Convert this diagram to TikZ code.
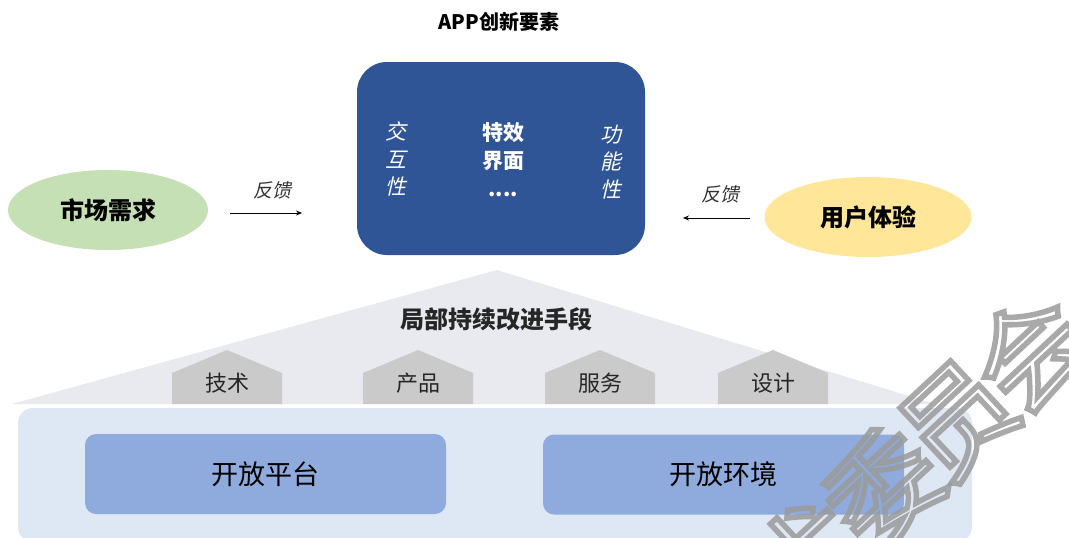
\documentclass[tikz,border=0pt]{standalone}
\usepackage{fontspec}
\setmainfont{Noto Sans CJK SC}
\newfontfamily\cjkit[FakeSlant=0.22]{Noto Sans CJK SC}
\usetikzlibrary{arrows.meta,shapes.geometric}
\definecolor{appblue}{HTML}{2F5597}
\definecolor{mgreen}{HTML}{C5E0B4}
\definecolor{uyellow}{HTML}{FFE699}
\definecolor{trigray}{HTML}{E8EAEF}
\definecolor{housegray}{HTML}{CACACA}
\definecolor{baseblue}{HTML}{DEE8F4}
\definecolor{innerblue}{HTML}{8FAADC}
\definecolor{wmgray}{HTML}{9A9A9A}
\tikzset{
  ell/.style={ellipse, minimum width=200pt, minimum height=80pt, inner sep=0pt,
    font=\fontsize{24}{24}\selectfont\bfseries, text=black},
  fb/.style={font=\cjkit\fontsize{19}{19}\selectfont, text=black!80},
  fbarrow/.style={-{Stealth[length=6pt,width=5pt]}, line width=0.8pt, black},
  housebox/.style={fill=housegray},
  houselabel/.style={font=\fontsize{22}{22}\selectfont, text=black!85},
  innerbox/.style={fill=innerblue, rounded corners=11pt, minimum width=361pt,
    minimum height=80pt, inner sep=0pt, font=\fontsize{27}{27}\selectfont, text=black},
  vtext/.style={align=center, font=\cjkit\fontsize{21}{27.5}\selectfont, text=white},
  wm/.style={rotate=43, font=\fontsize{110}{110}\selectfont, text=wmgray, text opacity=0.85, inner sep=0pt}
}
\newcommand{\wmchar}[1]{\special{pdf:literal direct 1 Tr 5.5 w}#1\special{pdf:literal direct 0 Tr 1 w}}
\begin{document}
\begin{tikzpicture}[x=1pt,y=-1pt]
\useasboundingbox[fill=white] (0,0) rectangle (1069,538);
% title
\node[font=\fontsize{20}{20}\selectfont\bfseries] (title) at (499,22) {APP创新要素};
% main blue box
\node[fill=appblue, rounded corners=30pt, minimum width=288pt, minimum height=193pt, inner sep=0pt] (app) at (501,158.5) {};
\node[vtext] (jiaohu) at (396,159) {交\\互\\性};
\node[align=center, font=\fontsize{21}{28}\selectfont\bfseries, text=white] (texiao) at (503,160) {特效\\界面\\....};
\node[vtext] (gongneng) at (611,162) {功\\能\\性};
% ellipses
\node[ell, fill=mgreen] (market) at (108,210) {市场需求};
\node[ell, fill=uyellow, minimum width=207pt] (user) at (868,217) {用户体验};
% feedback arrows
\coordinate (a1s) at (230,213);
\coordinate (a1e) at (302,213);
\draw[fbarrow] (a1s) -- (a1e);
\node[fb] (fb1) at (272,190) {反馈};
\coordinate (a2s) at (750,218);
\coordinate (a2e) at (683,218);
\draw[fbarrow] (a2s) -- (a2e);
\node[fb] (fb2) at (720,194) {反馈};
% triangle
\fill[trigray] (497,270) -- (12,404) -- (935,404) -- cycle;
\node[font=\fontsize{24}{24}\selectfont\bfseries, text=black!85] (jubu) at (496,319) {局部持续改进手段};
% houses
\foreach \cx/\lab/\nm in {227/技术/h1, 418/产品/h2, 600/服务/h3, 773/设计/h4}{
  \fill[housebox] (\cx-55,404) -- (\cx-55,373) -- (\cx,350) -- (\cx+55,373) -- (\cx+55,404) -- cycle;
  \node[houselabel] (\nm) at (\cx,383) {\lab};
}
% base
\fill[baseblue, rounded corners=15pt] (18,408) rectangle (972,542);
\node[innerbox] (platform) at (265.5,474) {开放平台};
\node[innerbox] (env) at (723.5,474.5) {开放环境};
% watermark
\begin{scope}
\clip (0,0) rectangle (1069,538);
\node[wm] (w1) at (808,558) {\wmchar{术}};
\node[wm] (w2) at (883,488) {\wmchar{委}};
\node[wm] (w3) at (958,420) {\wmchar{员}};
\node[wm] (w4) at (1030,352) {\wmchar{会}};
\end{scope}
\end{tikzpicture}
\end{document}
